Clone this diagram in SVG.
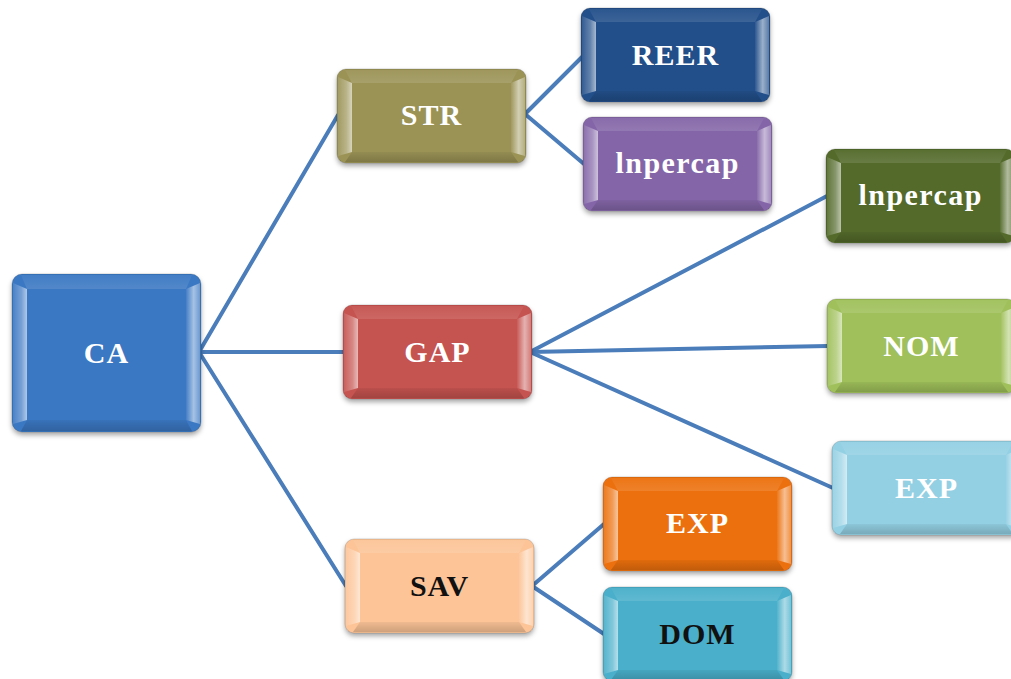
<svg xmlns="http://www.w3.org/2000/svg" xmlns:xlink="http://www.w3.org/1999/xlink" width="1011" height="679" viewBox="0 0 1011 679">
  <style>
    .edge { fill: none; stroke: #4a7dba; stroke-width: 4; stroke-linecap: round; }
    .box { stroke: #000; stroke-opacity: 0.15; stroke-width: 1; filter: url(#shadow); }
    .label { font-family: "Liberation Serif", "Times New Roman", serif; font-weight: bold; font-size: 30px; letter-spacing: 1px; text-anchor: middle; fill: #ffffff; }
    .dark { fill: #111111; }
  </style>
  <defs>
    <filter id="shadow" x="-10%" y="-10%" width="120%" height="130%">
      <feDropShadow dx="0" dy="3" stdDeviation="2.5" flood-color="#000" flood-opacity="0.35"/>
    </filter>
    <linearGradient id="bevL" x1="0" y1="0" x2="1" y2="0">
      <stop offset="0" stop-color="#fff" stop-opacity="0.08"/>
      <stop offset="0.6" stop-color="#fff" stop-opacity="0.3"/>
      <stop offset="1" stop-color="#fff" stop-opacity="0.6"/>
    </linearGradient>
    <linearGradient id="bevR" x1="0" y1="0" x2="1" y2="0">
      <stop offset="0" stop-color="#fff" stop-opacity="0.05"/>
      <stop offset="0.55" stop-color="#fff" stop-opacity="0.55"/>
      <stop offset="1" stop-color="#fff" stop-opacity="0.25"/>
    </linearGradient>
    <linearGradient id="bevT" x1="0" y1="0" x2="0" y2="1">
      <stop offset="0" stop-color="#fff" stop-opacity="0.04"/>
      <stop offset="1" stop-color="#fff" stop-opacity="0.12"/>
    </linearGradient>
    <linearGradient id="bevB" x1="0" y1="0" x2="0" y2="1">
      <stop offset="0" stop-color="#000" stop-opacity="0.05"/>
      <stop offset="1" stop-color="#000" stop-opacity="0.18"/>
    </linearGradient>
    <!-- bevel facets for a standard 189 x 94 box -->
    <g id="bevel">
      <polygon points="1,8 15,14 15,83 1,87" fill="url(#bevL)"/>
      <polygon points="188,8 174,14 174,83 188,87" fill="url(#bevR)"/>
      <polygon points="8,1 181,1 174,14 15,14" fill="url(#bevT)"/>
      <polygon points="8,93 181,93 174,83 15,83" fill="url(#bevB)"/>
    </g>
    <!-- bevel facets for the tall 189 x 158 root box -->
    <g id="bevelTall">
      <polygon points="1,9 15,15 15,146 1,150" fill="url(#bevL)"/>
      <polygon points="188,9 174,15 174,146 188,150" fill="url(#bevR)"/>
      <polygon points="9,1 180,1 174,15 15,15" fill="url(#bevT)"/>
      <polygon points="9,157 180,157 174,146 15,146" fill="url(#bevB)"/>
    </g>
  </defs>

  <rect width="1011" height="679" fill="#ffffff"/>

  <g id="connectors">
    <line class="edge" x1="199" y1="352" x2="338" y2="115"/>
    <line class="edge" x1="199" y1="352" x2="344" y2="352"/>
    <line class="edge" x1="199" y1="352" x2="346" y2="586"/>
    <line class="edge" x1="525" y1="114" x2="582" y2="57"/>
    <line class="edge" x1="525" y1="114" x2="584" y2="164"/>
    <line class="edge" x1="530" y1="352" x2="827" y2="196"/>
    <line class="edge" x1="530" y1="352" x2="828" y2="346"/>
    <line class="edge" x1="530" y1="352" x2="833" y2="488"/>
    <line class="edge" x1="532" y1="586" x2="604" y2="524"/>
    <line class="edge" x1="532" y1="586" x2="604" y2="634"/>
  </g>

  <g id="node-CA" transform="translate(12,274)">
    <rect class="box" width="189" height="158" rx="10" fill="#3a78c3"/>
    <use xlink:href="#bevelTall"/>
    <text class="label" x="94.5" y="89">CA</text>
  </g>

  <g id="node-STR" transform="translate(337,69)">
    <rect class="box" width="189" height="94" rx="9" fill="#9b9357"/>
    <use xlink:href="#bevel"/>
    <text class="label" x="94.5" y="56">STR</text>
  </g>

  <g id="node-GAP" transform="translate(343,305)">
    <rect class="box" width="189" height="94" rx="9" fill="#c5524f"/>
    <use xlink:href="#bevel"/>
    <text class="label" x="94.5" y="57">GAP</text>
  </g>

  <g id="node-SAV" transform="translate(345,539)">
    <rect class="box" width="189" height="94" rx="9" fill="#fcc497"/>
    <use xlink:href="#bevel"/>
    <text class="label dark" x="94.5" y="57">SAV</text>
  </g>

  <g id="node-REER" transform="translate(581,8)">
    <rect class="box" width="189" height="94" rx="9" fill="#24508a"/>
    <use xlink:href="#bevel"/>
    <text class="label" x="94.5" y="57">REER</text>
  </g>

  <g id="node-lnpercap-str" transform="translate(583,117)">
    <rect class="box" width="189" height="94" rx="9" fill="#8466a8"/>
    <use xlink:href="#bevel"/>
    <text class="label" x="94.5" y="56" textLength="124" lengthAdjust="spacing">lnpercap</text>
  </g>

  <g id="node-lnpercap-gap" transform="translate(826,149)">
    <rect class="box" width="189" height="94" rx="9" fill="#536b2a"/>
    <use xlink:href="#bevel"/>
    <text class="label" x="94.5" y="56" textLength="124" lengthAdjust="spacing">lnpercap</text>
  </g>

  <g id="node-NOM" transform="translate(827,299)">
    <rect class="box" width="189" height="94" rx="9" fill="#9fc05a"/>
    <use xlink:href="#bevel"/>
    <text class="label" x="94.5" y="57">NOM</text>
  </g>

  <g id="node-EXP-gap" transform="translate(832,441)">
    <rect class="box" width="189" height="94" rx="9" fill="#93d0e3"/>
    <use xlink:href="#bevel"/>
    <text class="label" x="94.5" y="57">EXP</text>
  </g>

  <g id="node-EXP-sav" transform="translate(603,477)">
    <rect class="box" width="189" height="94" rx="9" fill="#ec7011"/>
    <use xlink:href="#bevel"/>
    <text class="label" x="94.5" y="56">EXP</text>
  </g>

  <g id="node-DOM" transform="translate(603,587)">
    <rect class="box" width="189" height="94" rx="9" fill="#4aafca"/>
    <use xlink:href="#bevel"/>
    <text class="label dark" x="94.5" y="57">DOM</text>
  </g>
</svg>
